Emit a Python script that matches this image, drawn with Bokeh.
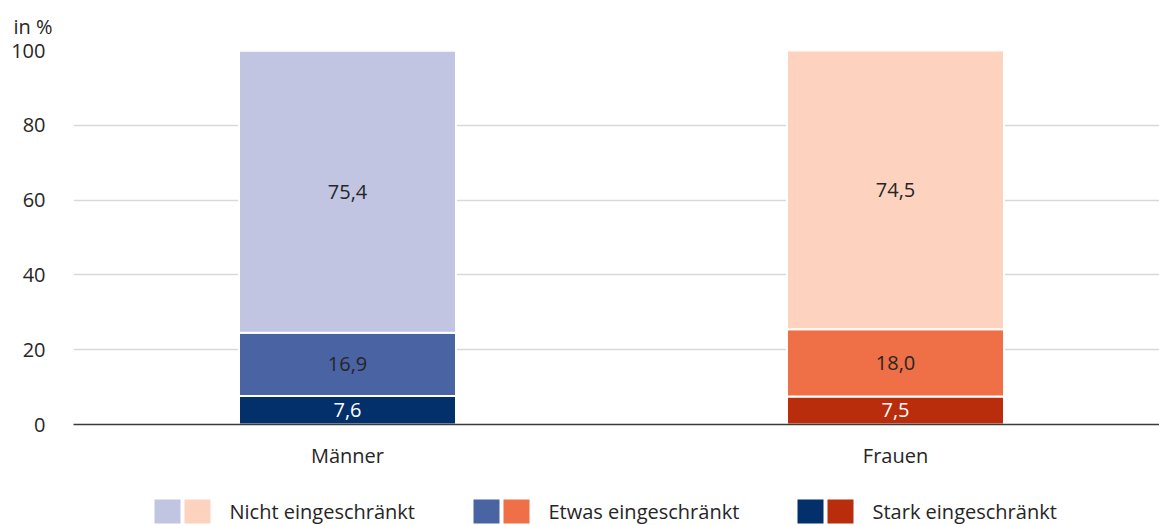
from bokeh.plotting import figure
from bokeh.models import Range1d, ColumnDataSource, FixedTicker
from bokeh.layouts import column
from bokeh.core.properties import value
from bokeh.embed import file_html
from bokeh.resources import INLINE

# ---- data ----
categories = ["Männer", "Frauen"]
series_names = ["Stark eingeschränkt", "Etwas eingeschränkt", "Nicht eingeschränkt"]
stark = [7.6, 7.5]
etwas = [16.9, 18.0]
nicht = [75.4, 74.5]
y_ticks = [0, 20, 40, 60, 80, 100]
legend_labels = ["Nicht eingeschränkt", "Etwas eingeschränkt", "Stark eingeschränkt"]
unit_label = "in %"

# ---- styles ----
FONT = "Open Sans"
FS = "20px"
TXT = "#262626"
colors = {
    "Stark eingeschränkt": ["#03306A", "#B92C0C"],
    "Etwas eingeschränkt": ["#4A63A3", "#EF6F46"],
    "Nicht eingeschränkt": ["#C1C5E2", "#FDD3BF"],
}
label_colors = {
    "Stark eingeschränkt": "white",
    "Etwas eingeschränkt": TXT,
    "Nicht eingeschränkt": TXT,
}

W = 1159
frame_left = 73
frame_w = W - frame_left
cat_px = 548.0
xs = [0.5 + i for i in range(len(categories))]
bar_w = 217.0 / cat_px

p = figure(width=W, height=478, output_backend="svg", toolbar_location=None,
           x_range=Range1d(0, frame_w / cat_px), y_range=Range1d(0, 100),
           min_border_left=frame_left, min_border_right=0,
           min_border_top=49, min_border_bottom=54)
p.outline_line_color = None
p.background_fill_color = "white"
p.border_fill_color = "white"

values = {"Stark eingeschränkt": stark, "Etwas eingeschränkt": etwas, "Nicht eingeschränkt": nicht}
bottom = [0.0] * len(categories)
for name in series_names:
    vals = values[name]
    top = [b + v for b, v in zip(bottom, vals)]
    src = ColumnDataSource(dict(
        x=xs, bottom=bottom, top=top, color=colors[name],
        ymid=[b + v / 2 for b, v in zip(bottom, vals)],
        lab=[f"{v:.1f}".replace(".", ",") for v in vals],
    ))
    p.vbar(x="x", bottom="bottom", top="top", width=bar_w, fill_color="color",
           line_color="white", line_width=2, source=src)
    p.text(x="x", y="ymid", text="lab", source=src, text_align="center",
           text_baseline="middle", text_font=value(FONT), text_font_size=FS,
           text_color=label_colors[name])
    bottom = top

# grid
p.xgrid.grid_line_color = None
p.ygrid.ticker = FixedTicker(ticks=y_ticks)
p.ygrid.grid_line_color = "#D9D9D9"
p.ygrid.grid_line_width = 1.5

# y axis
p.yaxis.ticker = FixedTicker(ticks=y_ticks)
p.yaxis.axis_line_color = None
p.yaxis.major_tick_line_color = None
p.yaxis.minor_tick_line_color = None
p.yaxis.major_label_standoff = 22
p.yaxis.major_label_text_font = FONT
p.yaxis.major_label_text_font_size = FS
p.yaxis.major_label_text_color = TXT

# x axis
p.xaxis.ticker = FixedTicker(ticks=xs)
p.xaxis.major_label_overrides = {x: c for x, c in zip(xs, categories)}
p.xaxis.axis_line_color = "#3A3A3A"
p.xaxis.axis_line_width = 1.5
p.xaxis.major_tick_line_color = None
p.xaxis.minor_tick_line_color = None
p.xaxis.major_label_standoff = 11
p.xaxis.major_label_text_font = FONT
p.xaxis.major_label_text_font_size = FS
p.xaxis.major_label_text_color = TXT

# unit label as title
p.title.text = unit_label
p.title.align = "left"
p.title.offset = -60
p.title.standoff = 21
p.title.text_font = FONT
p.title.text_font_size = FS
p.title.text_font_style = "normal"
p.title.text_color = TXT

# ---- legend figure (frame aligned with main frame; x in page pixels) ----
LH = 47
leg = figure(width=W, height=LH, output_backend="svg", toolbar_location=None,
             x_range=Range1d(frame_left, W), y_range=Range1d(LH, 0),
             x_axis_location=None, y_axis_location=None,
             min_border=0, min_border_left=frame_left, min_border_right=0,
             min_border_top=0, min_border_bottom=0)
leg.grid.visible = False
leg.outline_line_color = None

legend_x = [154, 473, 797]
sw_w, sw_gap, txt_off = 26, 4, 75
sw_top, sw_bot = 21, 45
for lx, name in zip(legend_x, legend_labels):
    c = colors[name]
    lefts = [lx, lx + sw_w + sw_gap]
    leg.quad(left=lefts, right=[l + sw_w for l in lefts], top=[sw_top] * 2,
             bottom=[sw_bot] * 2, fill_color=c, line_color=None)
    leg.text(x=[lx + txt_off], y=[(sw_top + sw_bot) / 2], text=[name],
             text_baseline="middle", text_align="left", text_font=value(FONT),
             text_font_size=FS, text_color=TXT)

layout = column(p, leg, spacing=0)
open("out.html", "w").write(file_html(layout, INLINE))
